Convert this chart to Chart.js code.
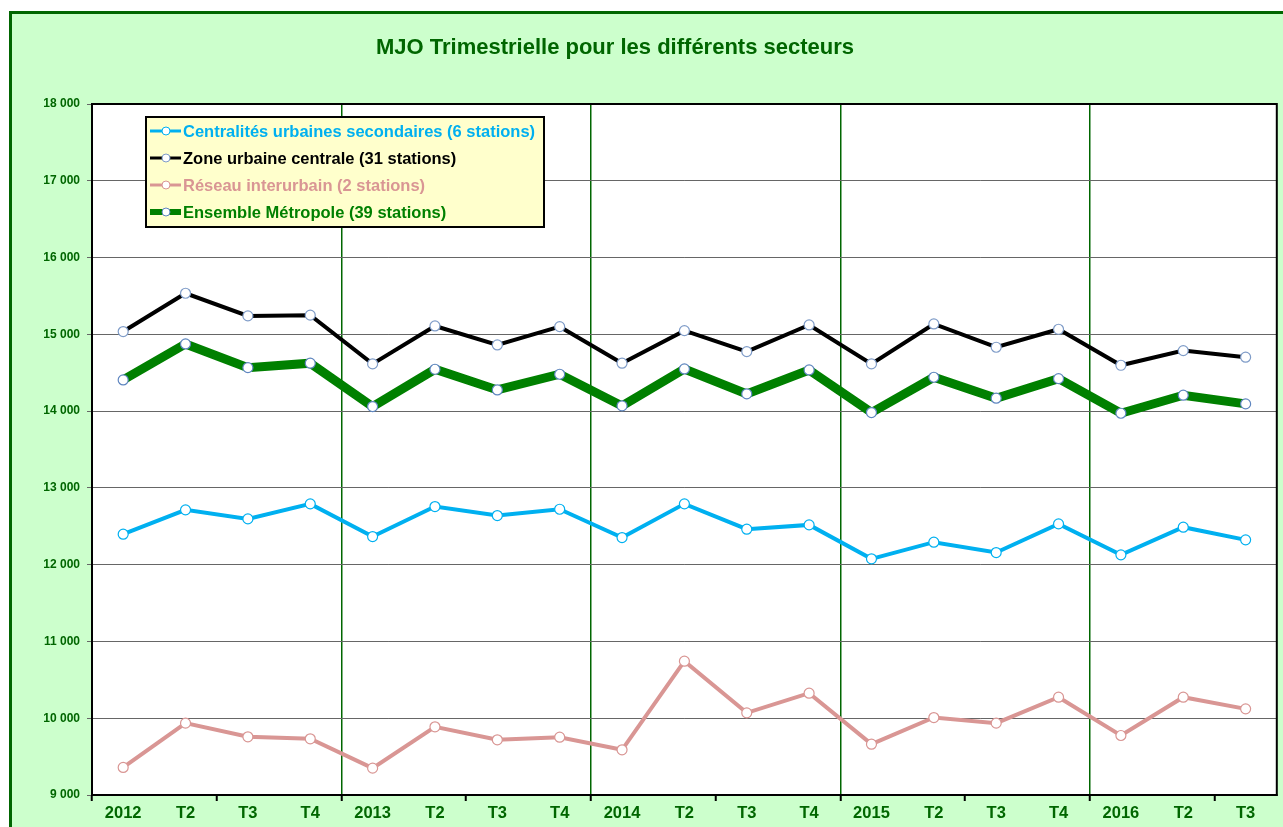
<!DOCTYPE html>
<html>
<head>
<meta charset="utf-8">
<script src="https://cdn.jsdelivr.net/npm/chart.js@4/dist/chart.umd.min.js"></script>
<style>
  html, body { margin: 0; padding: 0; background: #fff; overflow: hidden; }
  #panel {
    position: absolute; left: 9px; top: 11px; width: 1300px; height: 840px;
    background: #CCFFCC; border-left: 3px solid #006600; border-top: 3px solid #006600;
  }
  #wrap { position: absolute; left: 0; top: 0; width: 1283px; height: 827px; }
</style>
</head>
<body>
<div id="panel"></div>
<div id="wrap"><canvas id="chart" width="1283" height="827"></canvas></div>
<script>
const categories = ['2012', 'T2', 'T3', 'T4', '2013', 'T2', 'T3', 'T4', '2014', 'T2', 'T3', 'T4', '2015', 'T2', 'T3', 'T4', '2016', 'T2', 'T3'];

const centralites = [12397, 12714, 12596, 12792, 12366, 12757, 12640, 12722, 12353, 12792, 12462, 12518, 12076, 12293, 12158, 12531, 12128, 12488, 12323];
const zoneCentrale = [15036, 15535, 15240, 15250, 14615, 15109, 14862, 15100, 14624, 15048, 14775, 15122, 14615, 15135, 14832, 15066, 14597, 14788, 14702];
const interurbain = [9359, 9936, 9758, 9732, 9350, 9888, 9719, 9753, 9589, 10743, 10070, 10326, 9662, 10009, 9936, 10274, 9775, 10274, 10122];
const metropole = [14406, 14875, 14566, 14624, 14059, 14545, 14276, 14480, 14068, 14549, 14224, 14536, 13981, 14441, 14168, 14423, 13972, 14207, 14094];

const seriesNames = [
  'Centralités urbaines secondaires (6 stations)',
  'Zone urbaine centrale (31 stations)',
  'Réseau interurbain (2 stations)',
  'Ensemble Métropole (39 stations)'
];

const titleText = 'MJO Trimestrielle pour les différents secteurs';
const GREEN = '#006600';
const FONT = '"Liberation Sans", Arial, sans-serif';

const formatValue = (value) => {
  const s = String(value);
  return s.length > 3 ? s.slice(0, s.length - 3) + ' ' + s.slice(-3) : s;
};

// fond blanc + cadre de la zone de tracé
const plotArea = {
  id: 'plotArea',
  beforeDraw(chart) {
    const { ctx, chartArea: a } = chart;
    ctx.save();
    ctx.fillStyle = '#fff';
    ctx.fillRect(a.left, a.top, a.right - a.left, a.bottom - a.top);
    ctx.restore();
  },
  afterDraw(chart) {
    const { ctx, chartArea: a } = chart;
    ctx.save();
    ctx.strokeStyle = '#000';
    ctx.lineWidth = 2;
    ctx.strokeRect(a.left, a.top, a.right - a.left, a.bottom - a.top);
    // titre
    ctx.fillStyle = GREEN;
    ctx.font = 'bold 22px ' + FONT;
    ctx.textAlign = 'center';
    ctx.textBaseline = 'middle';
    ctx.fillText(titleText, 615, 48);
    ctx.restore();
  }
};

// légende dans un cadre jaune
const boxLegend = {
  id: 'boxLegend',
  afterDatasetsDraw(chart) {
    const { ctx } = chart;
    const x = 146, y = 117, w = 398, h = 110;
    ctx.save();
    ctx.fillStyle = '#FFFFCC';
    ctx.fillRect(x, y, w, h);
    ctx.strokeStyle = '#000';
    ctx.lineWidth = 2;
    ctx.strokeRect(x, y, w, h);
    ctx.font = 'bold 16.5px ' + FONT;
    ctx.textBaseline = 'middle';
    chart.data.datasets.forEach((ds, i) => {
      const ly = 131 + i * 27;
      ctx.strokeStyle = ds.borderColor;
      ctx.lineWidth = i === 3 ? 6 : 3;
      ctx.beginPath();
      ctx.moveTo(150, ly);
      ctx.lineTo(181, ly);
      ctx.stroke();
      ctx.beginPath();
      ctx.arc(166, ly, 4, 0, Math.PI * 2);
      ctx.fillStyle = '#fff';
      ctx.fill();
      ctx.lineWidth = 1;
      ctx.strokeStyle = ds.pointBorderColor;
      ctx.stroke();
      ctx.fillStyle = ds.borderColor;
      ctx.fillText(ds.label, 183, ly + 1);
    });
    ctx.restore();
  }
};

const makeSet = (label, data, color, width, pointBorder) => ({
  label: label,
  data: data,
  borderColor: color,
  backgroundColor: color,
  borderWidth: width,
  pointRadius: 5,
  pointBorderWidth: 1.2,
  pointBackgroundColor: '#fff',
  pointBorderColor: pointBorder,
  tension: 0
});

const ctx = document.getElementById('chart').getContext('2d');
new Chart(ctx, {
  type: 'line',
  data: {
    labels: categories,
    datasets: [
      makeSet(seriesNames[0], centralites, '#00B0F0', 4, '#00B0F0'),
      makeSet(seriesNames[1], zoneCentrale, '#000000', 4, '#7F9CC8'),
      makeSet(seriesNames[2], interurbain, '#D99694', 4, '#D99694'),
      makeSet(seriesNames[3], metropole, '#008000', 9, '#5F86C0')
    ]
  },
  options: {
    responsive: false,
    animation: false,
    layout: { padding: { left: 0, top: 104, right: 6, bottom: 0 } },
    plugins: {
      legend: { display: false },
      title: { display: false },
      tooltip: { enabled: false }
    },
    scales: {
      x: {
        offset: true,
        afterFit: (scale) => { scale.height = 32; },
        grid: {
          offset: true,
          drawOnChartArea: true,
          lineWidth: 1.5,
          tickLength: 6,
          color: (c) => (c.index > 0 && c.index < categories.length && c.index % 4 === 0) ? GREEN : 'rgba(0,0,0,0)',
          tickColor: (c) => (c.index % 2 === 0 ? '#000' : 'rgba(0,0,0,0)'),
          tickWidth: 2
        },
        border: { color: '#000', width: 2 },
        ticks: {
          color: GREEN,
          padding: 3,
          autoSkip: false,
          maxRotation: 0,
          font: { family: FONT, size: 16.5, weight: 'bold' }
        }
      },
      y: {
        min: 9000,
        max: 18000,
        afterFit: (scale) => { scale.width = 92; },
        grid: {
          color: '#666',
          lineWidth: 1,
          tickLength: 5
        },
        border: { color: '#000', width: 2 },
        ticks: {
          stepSize: 1000,
          color: GREEN,
          padding: 7,
          font: { family: FONT, size: 12, weight: 'bold' },
          callback: function(value) {
            return formatValue(value);
          }
        }
      }
    }
  },
  plugins: [plotArea, boxLegend]
});
</script>
</body>
</html>
